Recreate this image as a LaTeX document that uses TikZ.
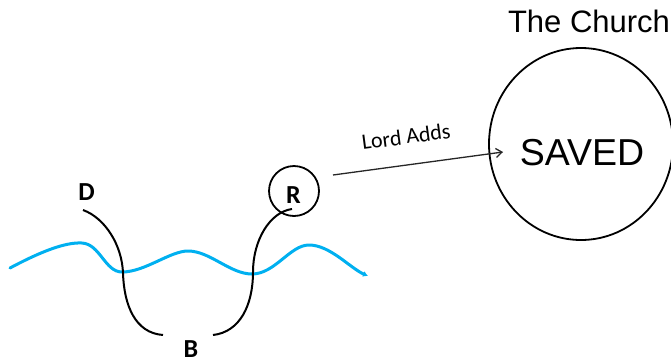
\documentclass[tikz,border=0pt]{standalone}
\usepackage{fontspec}
\setmainfont{Liberation Sans}
\newfontfamily\calib{Carlito}
\usetikzlibrary{arrows.meta,shapes.geometric}
\definecolor{wave}{RGB}{0,176,240}
\begin{document}
\begin{tikzpicture}[x=1pt,y=-1pt,
  curve/.style={line width=2pt, black},
  lbl/.style={font=\calib\bfseries\fontsize{26}{26}\selectfont, inner sep=0pt, anchor=base},
  ring/.style={draw, line width=1.8pt, inner sep=0pt},
]
\useasboundingbox (0,0) rectangle (671,362);
% big circle
\node[ring, ellipse, minimum width=184pt, minimum height=192pt] (church) at (581,144) {};
\node[anchor=base, font=\fontsize{31}{31}\selectfont, inner sep=0pt] (title) at (589,32) {The Church};
\node[anchor=base, font=\fontsize{37.5}{37.5}\selectfont, inner sep=0pt] (saved) at (582,165) {SAVED};
% R circle
\node[ring, circle, minimum size=50pt] (rc) at (294,191) {};
\node[lbl] (r) at (293.5,203) {R};
\node[lbl] (d) at (86.5,200) {D};
\node[lbl] (b) at (191,357) {B};
% arrow
\coordinate (la) at (333,175);
\coordinate (lb) at (503,152);
\draw[line width=1.3pt, black!85, -{Straight Barb[length=6pt,width=9pt]}] (la) -- (lb);
\node[anchor=base, rotate=7.5, font=\calib\fontsize{22}{22}\selectfont, inner sep=0pt] (lord) at (407,144) {Lord Adds};
% wave
\draw[wave, line width=3pt, line cap=round, -{Latex[length=5pt,width=6pt]}]
  (10,268) .. controls (40,252) and (65,242) .. (82,243)
  .. controls (100,244) and (105,272) .. (122,272)
  .. controls (145,272) and (170,251) .. (188,251)
  .. controls (210,251) and (230,274) .. (252,274)
  .. controls (275,274) and (290,245) .. (309,245)
  .. controls (330,245) and (350,268) .. (368,276);
% black curves
\coordinate (d0) at (83,210);
\coordinate (d1) at (163,335);
\coordinate (r0) at (292,209);
\coordinate (r1) at (213,335);
\draw[curve] (d0) .. controls (105,218) and (122,245) .. (123,273)
  .. controls (124,305) and (135,333) .. (d1);
\draw[curve] (r0) .. controls (270,212) and (253,240) .. (253,272)
  .. controls (253,305) and (240,332) .. (r1);
\end{tikzpicture}
\end{document}
